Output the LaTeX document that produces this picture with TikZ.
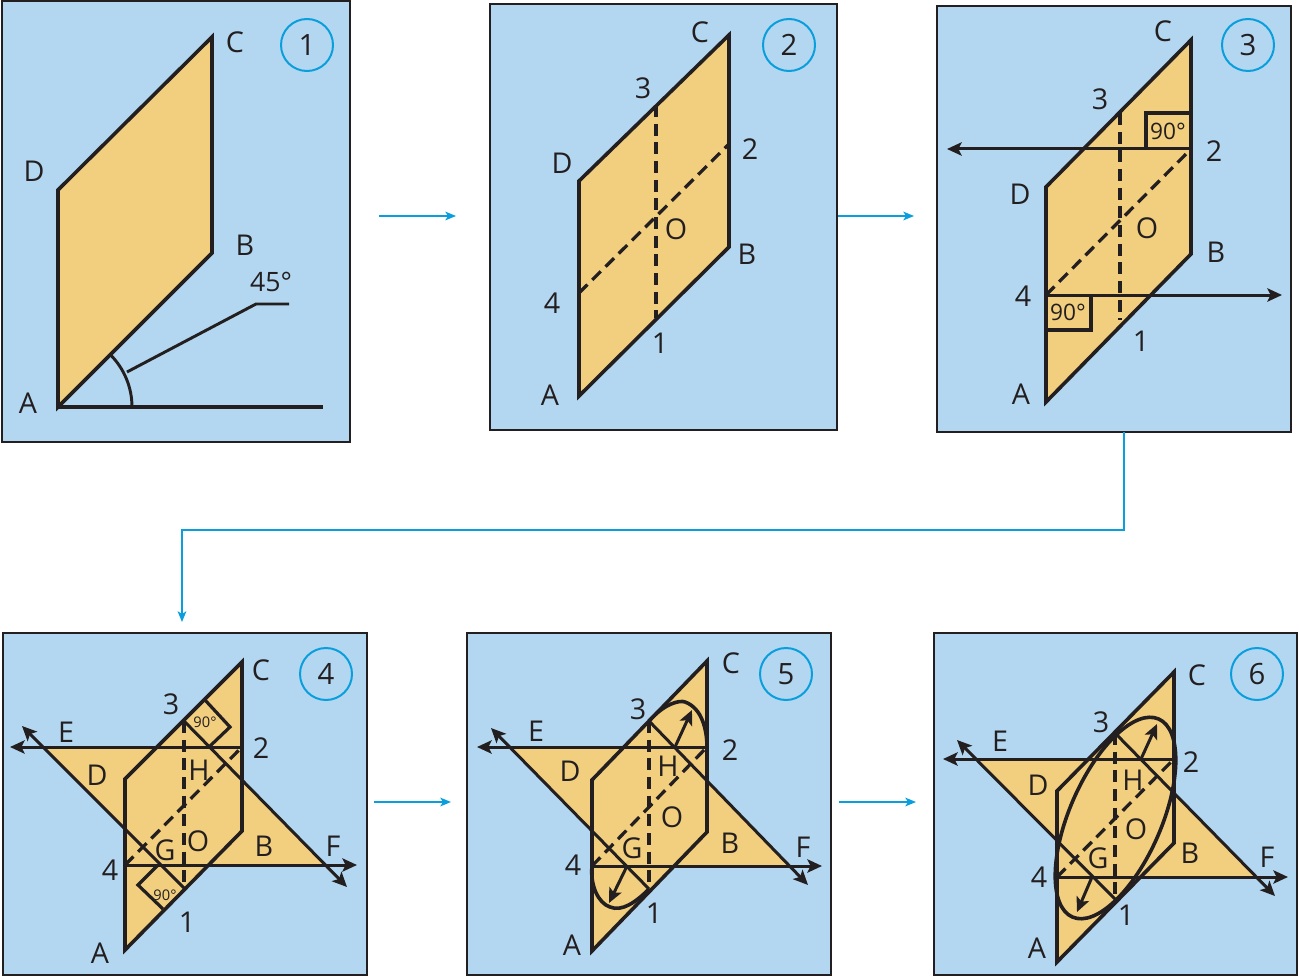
\documentclass[tikz,border=0pt]{standalone}
\usepackage{fontspec}
\setmainfont{Open Sans}
\usetikzlibrary{arrows.meta}
\definecolor{bgblue}{HTML}{B3D7F1}
\definecolor{flap}{HTML}{F2CF7E}
\definecolor{ink}{HTML}{231F20}
\definecolor{cyanline}{HTML}{0A9FDC}
\tikzset{
  x=0.75pt,y=-0.75pt,
  panel/.style={fill=bgblue,draw=ink,line width=1.6pt},
  panelthick/.style={panel,line width=2.1pt},
  panelmid/.style={panel,line width=2.1pt},
  paper/.style={fill=flap,draw=none},
  edge/.style={draw=ink,line width=2.7pt,line join=miter,line cap=butt},
  fold/.style={edge,line width=2.45pt,dashed,dash pattern=on 9pt off 5pt},
  arrowline/.style={edge,line width=2.25pt,-{Stealth[length=11pt,width=10pt,inset=2.5pt]}},
  thinbox/.style={edge,line width=2.4pt},
  flow/.style={draw=cyanline,line width=1.3pt,-{Stealth[length=8pt,width=6.5pt,inset=2pt]}},
  lab/.style={text=ink,font=\fontsize{21.5}{23}\selectfont,inner sep=0pt},
  deg/.style={text=ink,font=\fontsize{17}{18}\selectfont,inner sep=0pt},
  degsmall/.style={text=ink,font=\fontsize{11}{12}\selectfont,inner sep=0pt},
  badge/.style={circle,draw=cyanline,line width=1.5pt,minimum size=39pt,inner sep=0pt,text=ink,font=\fontsize{22}{24}\selectfont},
}
\newcommand{\pgram}[1]{%
  \path[paper] (#1A)--(#1D)--(#1C)--(#1B)--cycle;}
\newcommand{\pgramline}[1]{%
  \draw[edge] (#1A)--(#1D)--(#1C)--(#1B)--cycle;}
\newcommand{\foldlines}[1]{%
  \draw[fold] (#1u)--(#1l);
  \draw[fold] (#1w)--(#1r);}
\newcommand{\flaps}[1]{%
  \path[paper] (#1E)--(#1r)--(#1l)--cycle;
  \path[paper] (#1F)--(#1w)--(#1u)--cycle;
  \pgram{#1}}
\newcommand{\flaplines}[1]{%
  \draw[arrowline] (#1r)--(#1Et);
  \draw[arrowline] (#1w)--(#1Ft);
  \draw[arrowline] (#1u)--(#1Fd);
  \draw[arrowline] (#1l)--(#1Ed);}
\begin{document}
\begin{tikzpicture}
\useasboundingbox (0,0) rectangle (1299,977);
% panels
\path[panel] (2,1) rectangle (350,442);
\path[panel] (490,4) rectangle (837,430);
\path[panelthick] (937,6) rectangle (1291,432);
\path[panelmid] (3,633) rectangle (367,975);
\path[panelmid] (467,633) rectangle (831,975);
\path[panelmid] (934,633) rectangle (1297,975);
% ---------- panel 1
\coordinate (aA) at (58,407); \coordinate (aD) at (58,190);
\coordinate (aC) at (212,37); \coordinate (aB) at (212,253);
\coordinate (aEnd) at (323,407); \coordinate (aLa) at (127,372);
\coordinate (aLb) at (256,304); \coordinate (aLc) at (289,304);
\pgram{a}\pgramline{a}
\draw[edge] (aA)--(aEnd);
\draw[edge,line width=2.2pt] (132,407) arc[start angle=0,end angle=-45,radius=74];
\draw[edge,line width=2.2pt] (aLa)--(aLb)--(aLc);
\foreach \t/\x/\y in {C/235/42,D/34/171,B/245/245,A/28/403}
  \node[lab] (a\t l) at (\x,\y) {\t};
\node[deg,font=\fontsize{20}{22}\selectfont] (a45) at (271,282) {45°};
\node[badge] (b1) at (307,45) {1};
% ---------- panel 2
\coordinate (bA) at (579,396); \coordinate (bD) at (579,181);
\coordinate (bC) at (729,35); \coordinate (bB) at (729,247);
\coordinate (bu) at (656,105); \coordinate (bl) at (656,318);
\coordinate (br) at (729,144); \coordinate (bw) at (579,293);
\pgram{b}\foldlines{b}\pgramline{b}
\foreach \t/\x/\y in {C/700/32,3/643/88,2/750/149,D/562/163,O/676/229,B/747/254,4/552/303,1/660/343,A/550/395}
  \node[lab] (b\t l) at (\x,\y) {\t};
\node[badge] (b2) at (789,45) {2};
% ---------- panel 3
\coordinate (cA) at (1046,402); \coordinate (cD) at (1046,187);
\coordinate (cC) at (1191,40); \coordinate (cB) at (1191,254);
\coordinate (cu) at (1120,113); \coordinate (cl) at (1120,320);
\coordinate (cr) at (1191,149); \coordinate (cw) at (1046,295);
\coordinate (cEt) at (947,149); \coordinate (cFt) at (1282,295);
\pgram{c}\foldlines{c}\pgramline{c}
\draw[arrowline] (cr)--(cEt);
\draw[arrowline] (cw)--(cFt);
\draw[thinbox] (1146,149)--(1146,113)--(1191,113);
\draw[thinbox] (1091,295)--(1091,330)--(1046,330);
\node[deg] (c90a) at (1168,131) {90°};
\node[deg] (c90b) at (1068,312) {90°};
\foreach \t/\x/\y in {C/1163/31,3/1100/99,2/1214/151,D/1020/194,O/1147/228,B/1216/252,4/1023/296,1/1141/341,A/1021/394}
  \node[lab] (c\t l) at (\x,\y) {\t};
\node[badge] (b3) at (1248,45) {3};
% ---------- panel 4
\coordinate (dA) at (125,950); \coordinate (dD) at (125,779);
\coordinate (dC) at (242,662); \coordinate (dB) at (242,831);
\coordinate (du) at (184,721); \coordinate (dl) at (184,888);
\coordinate (dr) at (242,747); \coordinate (dw) at (125,865);
\coordinate (dE) at (43,747); \coordinate (dF) at (325,865);
\coordinate (dEt) at (10,747); \coordinate (dEd) at (22,726);
\coordinate (dFt) at (357,865); \coordinate (dFd) at (347,887);
\flaps{d}\foldlines{d}\pgramline{d}\flaplines{d}
\draw[thinbox] (205,700)--(230,727)--(209,747);
\draw[thinbox] (158,865)--(138,885)--(163,909);
\node[degsmall] (d90a) at (205,722) {90°};
\node[degsmall] (d90b) at (165,895) {90°};
\foreach \t/\x/\y in {C/261/670,3/171/704,E/66/732,2/261/748,D/97/775,H/199/770,G/165/850,O/198/841,B/264/846,F/333/846,4/110/870,1/187/922,A/100/953}
  \node[lab] (d\t l) at (\x,\y) {\t};
\node[badge] (b4) at (326,674) {4};
% ---------- panel 5
\coordinate (eA) at (592,951); \coordinate (eD) at (592,780);
\coordinate (eC) at (707,661); \coordinate (eB) at (707,832);
\coordinate (eu) at (649,721); \coordinate (el) at (649,889);
\coordinate (er) at (707,747); \coordinate (ew) at (592,866);
\coordinate (eE) at (510,747); \coordinate (eF) at (788,866);
\coordinate (eEt) at (477,747); \coordinate (eEd) at (491,728);
\coordinate (eFt) at (822,866); \coordinate (eFd) at (808,885);
\coordinate (eHa) at (675,747); \coordinate (eHb) at (692,710);
\coordinate (eGa) at (627,866); \coordinate (eGb) at (609,903);
\flaps{e}\foldlines{e}\pgramline{e}\flaplines{e}
\draw[edge] (eu) .. controls (665,703) and (680,700) .. (685,702)
  .. controls (702,708) and (707,730) .. (er);
\draw[edge] (ew) .. controls (590,885) and (598,903) .. (610,907)
  .. controls (622,912) and (636,902) .. (el);
\draw[arrowline] (eHa)--(eHb);
\draw[arrowline] (eGa)--(eGb);
\foreach \t/\x/\y in {C/731/663,3/638/709,E/536/731,2/730/750,D/570/771,H/668/766,O/672/817,G/632/848,B/730/843,F/803/847,4/573/865,1/654/913,A/572/945}
  \node[lab] (e\t l) at (\x,\y) {\t};
\node[badge] (b5) at (786,674) {5};
% ---------- panel 6
\coordinate (fA) at (1057,962); \coordinate (fD) at (1057,791);
\coordinate (fC) at (1174,672); \coordinate (fB) at (1174,843);
\coordinate (fu) at (1115,733); \coordinate (fl) at (1115,899);
\coordinate (fr) at (1174,759); \coordinate (fw) at (1057,877);
\coordinate (fE) at (978,759); \coordinate (fF) at (1255,877);
\coordinate (fEt) at (943,759); \coordinate (fEd) at (957,740);
\coordinate (fFt) at (1288,877); \coordinate (fFd) at (1275,896);
\coordinate (fHa) at (1141,759); \coordinate (fHb) at (1157,724);
\coordinate (fGa) at (1092,877); \coordinate (fGb) at (1077,912);
\flaps{f}\foldlines{f}\pgramline{f}\flaplines{f}
\draw[edge,shift={(1115.5,818)},rotate=66.5] (0,0) ellipse[x radius=108,y radius=46];
\draw[arrowline] (fHa)--(fHb);
\draw[arrowline] (fGa)--(fGb);
\foreach \t/\x/\y in {C/1197/675,3/1101/722,E/1000/741,2/1191/762,D/1038/785,H/1133/780,O/1136/829,G/1098/858,B/1190/853,F/1267/857,4/1039/877,1/1126/915,A/1037/948}
  \node[lab] (f\t l) at (\x,\y) {\t};
\node[badge] (b6) at (1257,674) {6};
% ---------- flow arrows
\coordinate (fa1) at (379,216); \coordinate (fa2) at (456,216);
\coordinate (fb1) at (838,216); \coordinate (fb2) at (914,216);
\coordinate (fc1) at (1124,432); \coordinate (fc2) at (1124,530);
\coordinate (fc3) at (182,530); \coordinate (fc4) at (182,622);
\coordinate (fd1) at (374,802); \coordinate (fd2) at (451,802);
\coordinate (fe1) at (839,802); \coordinate (fe2) at (916,802);
\draw[flow] (fa1)--(fa2);
\draw[flow] (fb1)--(fb2);
\draw[flow] (fc1)--(fc2)--(fc3)--(fc4);
\draw[flow] (fd1)--(fd2);
\draw[flow] (fe1)--(fe2);
\end{tikzpicture}
\end{document}
